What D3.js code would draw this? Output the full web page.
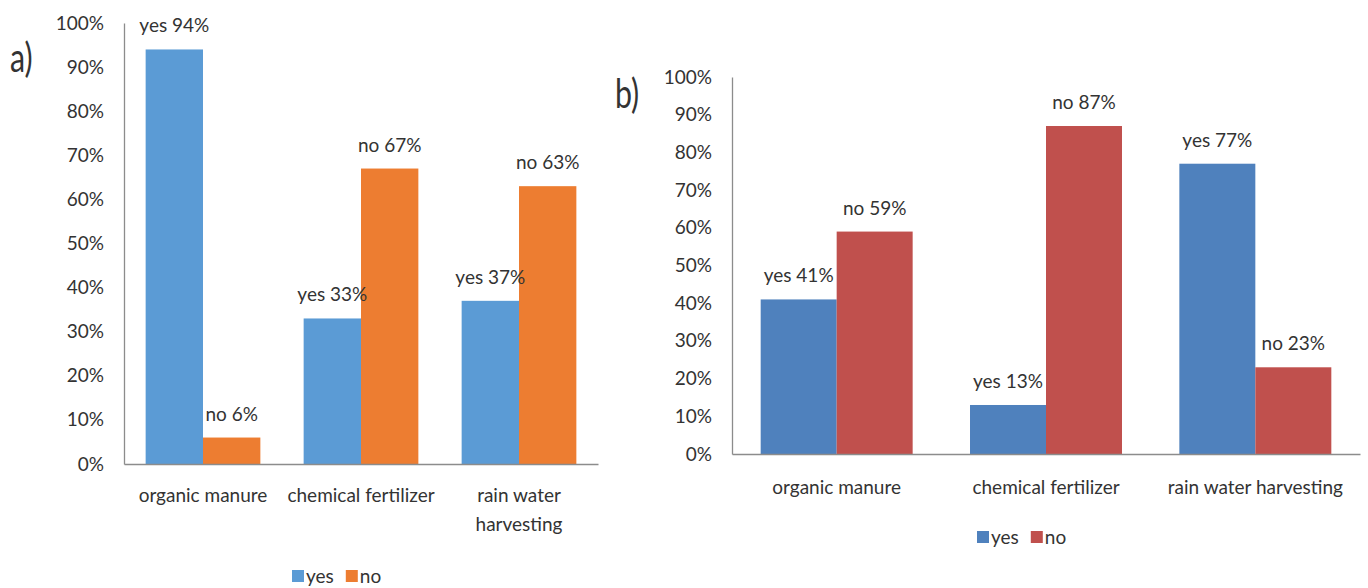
<!DOCTYPE html>
<html>
<head>
<meta charset="utf-8">
<script src="https://cdn.jsdelivr.net/npm/d3@7"></script>
<style>
  html, body { margin: 0; padding: 0; background: #ffffff; }
  svg { display: block; }
  text { font-family: Lato, "Open Sans", sans-serif; fill: #333333; }
</style>
</head>
<body>
<svg id="chart" width="1368" height="588"></svg>
<script>
// Practice adoption survey: share of respondents answering yes / no
const categories = ["organic manure", "chemical fertilizer", "rain water harvesting"];
const seriesNames = ["yes", "no"];
const panelAYes = [94, 33, 37];
const panelANo = [6, 67, 63];
const panelBYes = [41, 13, 77];
const panelBNo = [59, 87, 23];
const yTickValues = [0, 10, 20, 30, 40, 50, 60, 70, 80, 90, 100];

const svg = d3.select("#chart");
svg.append("rect").attr("width", 1368).attr("height", 588).attr("fill", "#ffffff");

const FONT = 19;

function wrapLabel(textSel, maxWidth) {
  textSel.each(function () {
    const t = d3.select(this);
    const words = t.text().split(" ");
    const x = t.attr("x");
    t.text(null);
    let line = [];
    let tspan = t.append("tspan").attr("x", x).attr("dy", 0);
    words.forEach(w => {
      line.push(w);
      tspan.text(line.join(" "));
      if (tspan.node().getComputedTextLength() > maxWidth && line.length > 1) {
        line.pop();
        tspan.text(line.join(" "));
        line = [w];
        tspan = t.append("tspan").attr("x", x).attr("dy", "1.5em").text(w);
      }
    });
  });
}

function drawPanel(cfg) {
  const g = svg.append("g");
  const x = d3.scaleBand().domain(categories).range([cfg.left, cfg.right]).padding(0);
  const inner = d3.scaleBand().domain(seriesNames)
    .range([x.bandwidth() * 0.137, x.bandwidth() * 0.863]).padding(0);
  const y = d3.scaleLinear().domain([0, 100]).range([cfg.bottom, cfg.top]);

  const rows = categories.map((c, i) => ({
    category: c,
    values: [
      { series: "yes", value: cfg.yes[i] },
      { series: "no", value: cfg.no[i] }
    ]
  }));

  // y axis: line + right-aligned percent labels, no tick marks
  const yAxis = d3.axisLeft(y).tickValues(yTickValues).tickSize(0).tickPadding(20)
    .tickFormat(d => d + "%");
  const ya = g.append("g").attr("transform", `translate(${cfg.left},0)`).call(yAxis);
  ya.select(".domain").attr("stroke", "#8c8c8c").attr("stroke-width", 1.3);
  ya.selectAll("text").attr("font-size", FONT).attr("font-family", null).attr("fill", "#333");

  // bars
  const groups = g.selectAll(".cat").data(rows).join("g")
    .attr("transform", d => `translate(${x(d.category)},0)`);
  groups.selectAll("rect").data(d => d.values).join("rect")
    .attr("x", d => inner(d.series))
    .attr("width", inner.bandwidth())
    .attr("y", d => y(d.value))
    .attr("height", d => y(0) - y(d.value))
    .attr("fill", d => cfg.colors[d.series]);

  // value labels above bars
  groups.selectAll("text.val").data(d => d.values).join("text")
    .attr("class", "val")
    .attr("x", d => inner(d.series) + inner.bandwidth() / 2)
    .attr("y", d => y(d.value) - 17)
    .attr("text-anchor", "middle")
    .attr("font-size", FONT)
    .text(d => `${d.series} ${d.value}%`);

  // x axis baseline and category labels
  const xAxis = d3.axisBottom(x).tickSize(0).tickPadding(0);
  const xa = g.append("g").attr("transform", `translate(0,${cfg.bottom})`).call(xAxis);
  xa.select(".domain").attr("stroke", "#8c8c8c").attr("stroke-width", 1.3);
  xa.selectAll("text")
    .attr("font-size", FONT).attr("font-family", null).attr("fill", "#333")
    .attr("dy", null).attr("y", cfg.labelOffset)
    .attr("x", 0)
    .call(wrapLabel, x.bandwidth() - 6);

  // legend
  const lg = g.append("g").attr("transform", `translate(${cfg.legendX},${cfg.legendY})`);
  let lx = 0;
  seriesNames.forEach(s => {
    lg.append("rect").attr("x", lx).attr("y", -6).attr("width", 12).attr("height", 12)
      .attr("fill", cfg.colors[s]);
    const t = lg.append("text").attr("x", lx + 14).attr("y", 7).attr("font-size", FONT).text(s);
    lx += 14 + t.node().getComputedTextLength() + 12;
  });

  // panel tag
  svg.append("text").attr("transform", `translate(${cfg.tagX},${cfg.tagY}) scale(0.98,1.32)`)
    .attr("font-size", 31).attr("fill", "#111").text(cfg.tag);
}

drawPanel({
  tag: "a)", tagX: 10, tagY: 72,
  left: 124, right: 598, top: 23, bottom: 464,
  yes: panelAYes, no: panelANo,
  colors: { yes: "#5B9BD5", no: "#ED7D31" },
  labelOffset: 38,
  legendX: 292, legendY: 576
});

drawPanel({
  tag: "b)", tagX: 615, tagY: 108,
  left: 732, right: 1360, top: 77, bottom: 454,
  yes: panelBYes, no: panelBNo,
  colors: { yes: "#4F81BD", no: "#C0504D" },
  labelOffset: 40,
  legendX: 977, legendY: 537
});
</script>
</body>
</html>
